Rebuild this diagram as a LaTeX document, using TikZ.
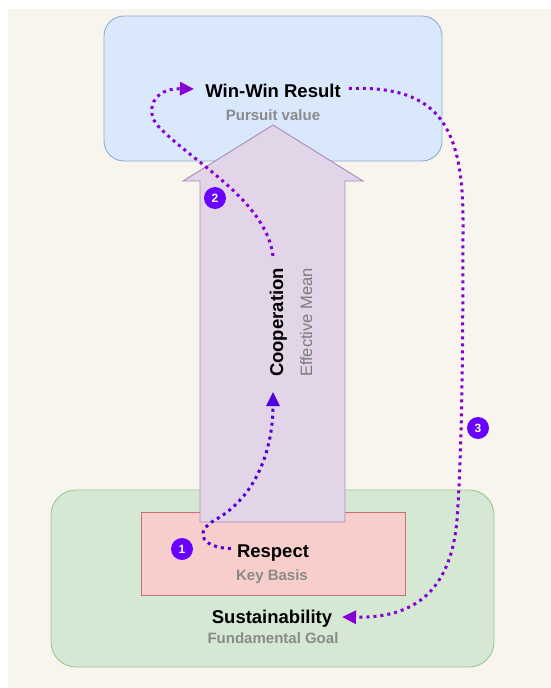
\documentclass[tikz,border=0pt]{standalone}
\usepackage{fontspec}
\setmainfont{Liberation Sans}
\usetikzlibrary{arrows.meta,calc}

\definecolor{paper}{HTML}{F8F5EE}
\definecolor{blueFill}{HTML}{DAE8FC}
\definecolor{blueLine}{HTML}{8FAAD6}
\definecolor{greenFill}{HTML}{D5E8D4}
\definecolor{greenLine}{HTML}{9CC68A}
\definecolor{pinkFill}{HTML}{F8CECC}
\definecolor{pinkLine}{HTML}{C8726E}
\definecolor{arrowFill}{HTML}{E1D5E7}
\definecolor{arrowLine}{HTML}{A98BBB}
\definecolor{subGray}{HTML}{8A8A8A}
\definecolor{flowBlue}{HTML}{5000DC}
\definecolor{flowViolet}{HTML}{8600D6}
\definecolor{badgeFill}{HTML}{6A00FF}

\tikzset{
  panel/.style={line width=0.9pt},
  title/.style={font=\fontsize{18.5}{22}\selectfont\bfseries, text=black, inner sep=3pt},
  subtitle/.style={font=\fontsize{15}{18}\selectfont\bfseries, text=subGray, inner sep=3pt},
  subtitlelight/.style={font=\fontsize{16.5}{19}\selectfont, text=subGray!90!black, inner sep=3pt},
  flowline/.style={line width=3pt, dash pattern=on 3pt off 4pt,
    -{Triangle[length=14pt,width=13pt]}},
  flowA/.style={flowline, draw=flowBlue},
  flowB/.style={flowline, draw=flowViolet},
  badge/.style={circle, fill=badgeFill, minimum size=22pt, inner sep=0pt,
    text=white, font=\fontsize{12}{14}\selectfont\bfseries},
}

\begin{document}
\begin{tikzpicture}[x=1pt,y=-1pt]
\useasboundingbox (0,0) rectangle (551,688);
\fill[paper] (8,9) rectangle (551,688);

% outer panels
\draw[panel, draw=blueLine, fill=blueFill, rounded corners=20pt] (104,16) rectangle (442,161);
\draw[panel, draw=greenLine, fill=greenFill, rounded corners=25pt] (51,490) rectangle (494,667);
\draw[panel, draw=pinkLine, fill=pinkFill] (141,512) rectangle (405,595);

% the big upward arrow
\draw[panel, draw=arrowLine, fill=arrowFill]
  (200,522) -- (200,181) -- (183,181) -- (273,125) -- (363,181) -- (345,181) -- (345,522) -- cycle;

% labels
\node[title, anchor=base] (win) at (273,97) {Win-Win Result};
\node[subtitle, anchor=base] (winsub) at (273,120) {Pursuit value};
\node[title, anchor=base] (respect) at (273,557) {Respect};
\node[subtitle, anchor=base] (respectsub) at (272,580) {Key Basis};
\node[title, anchor=base] (sust) at (272,623) {Sustainability};
\node[subtitle, anchor=base] (sustsub) at (273,643) {Fundamental Goal};
\node[title, rotate=90, anchor=base] (coop) at (283,322.5) {Cooperation};
\node[subtitlelight, rotate=90, anchor=base] (coopsub) at (312,322.5) {Effective Mean};

% connector end points
\coordinate (coopfoot) at (273,392);
\coordinate (coophead) at (273,256);
\coordinate (winin) at (194,89);
\coordinate (sustin) at (342,617);

% step 1: respect -> cooperation
\draw[flowA] ($(respect.west)+(-3,-4)$)
  .. controls (204,548) and (192,533) .. (215,520)
  .. controls (256,497) and (273,450) .. (coopfoot);

% step 2: cooperation -> win-win result
\draw[flowB] (coophead)
  .. controls (266,200) and (192,162) .. (158,126)
  .. controls (145,112) and (152,88) .. (winin);

% step 3: win-win result -> sustainability
\draw[flowB] ($(win.east)+(5,-2)$)
  .. controls (432,86) and (463,118) .. (463,220)
  .. controls (463,350) and (462,450) .. (457,520)
  .. controls (450,600) and (405,618) .. (sustin);

% step badges
\node[badge] (b1) at (182,549) {1};
\node[badge] (b2) at (215,198) {2};
\node[badge] (b3) at (478,428) {3};
\end{tikzpicture}
\end{document}
